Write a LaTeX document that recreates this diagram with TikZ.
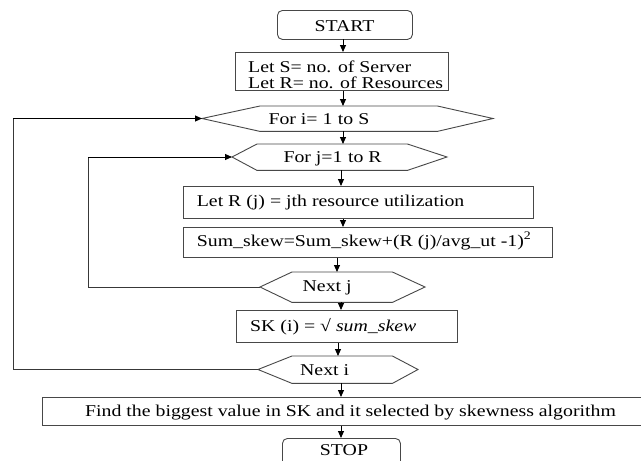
\documentclass[tikz,border=0pt]{standalone}
\usepackage{fontspec}
\setmainfont{Liberation Serif}[FakeStretch=1.2]
\usetikzlibrary{arrows.meta}
\begin{document}
\begin{tikzpicture}[x=1pt,y=-1pt,
  shp/.style={draw=black!72, line width=0.9pt},
  boxnode/.style={shp, rectangle, inner sep=0pt, anchor=north west},
  body/.style={rectangle, inner sep=0pt, anchor=north west},
  arr/.style={-{Triangle[length=7pt,width=6pt]}, draw=black, line width=0.9pt},
  loopln/.style={draw=black!78, line width=0.9pt},
  txt/.style={font=\fontsize{16.5}{19}\selectfont, inner sep=0pt, anchor=base west},
  ctxt/.style={font=\fontsize{16.5}{19}\selectfont, inner sep=0pt, anchor=base}]
\clip (0,0) rectangle (641,461);
\fill[white] (0,0) rectangle (641,461);

% START
\node[boxnode, rounded corners=5pt, minimum width=135pt, minimum height=29pt] (start) at (277,10) {};
\node[ctxt] (tstart) at (344.5,31) {START};

% Let S / Let R
\node[boxnode, minimum width=213pt, minimum height=38pt] (lets) at (235,52) {};
\node[txt] (tlets1) at (248,72.7) {Let S= no. of Server};
\node[txt] (tlets2) at (248,88.3) {Let R= no. of Resources};

% For i hexagon
\node[body, minimum width=177pt, minimum height=25pt] (fori) at (260,106) {};
\coordinate (foriL) at (202,118.5);
\coordinate (foriR) at (493,118.5);
\draw[shp] (foriL) -- (fori.north west) -- (fori.north east) -- (foriR) -- (fori.south east) -- (fori.south west) -- cycle;
\node[txt] (tfori) at (268.3,124) {For i= 1\,\,to S};

% For j hexagon
\node[body, minimum width=150pt, minimum height=26pt] (forj) at (257,144) {};
\coordinate (forjL) at (232,157);
\coordinate (forjR) at (447,157);
\draw[shp] (forjL) -- (forj.north west) -- (forj.north east) -- (forjR) -- (forj.south east) -- (forj.south west) -- cycle;
\node[txt] (tforj) at (283.3,162) {For j=1\,\,to R};

% Let R(j)
\node[boxnode, minimum width=350pt, minimum height=32pt] (letr) at (183,186) {};
\node[txt] (tletr) at (196.7,206.5) {Let R (j) = jth resource utilization};

% Sum skew
\node[boxnode, minimum width=369pt, minimum height=30pt] (sum) at (183,227) {};
\node[txt] (tsum) at (196.7,246) {Sum\_skew=Sum\_skew+(R (j)/avg\_ut -1)\textsuperscript{2}};

% Next j hexagon
\node[body, minimum width=100pt, minimum height=30pt] (nextj) at (292,272) {};
\coordinate (nextjL) at (260,287);
\coordinate (nextjR) at (425,287);
\draw[shp] (nextjL) -- (nextj.north west) -- (nextj.north east) -- (nextjR) -- (nextj.south east) -- (nextj.south west) -- cycle;
\node[txt] (tnextj) at (302.5,291) {Next j};

% SK(i)
\node[boxnode, minimum width=221pt, minimum height=32pt] (sk) at (236,310) {};
\node[txt] (tsk) at (250,331.7) {SK (i) = \symbol{"221A} \textit{sum\_skew}};

% Next i hexagon
\node[body, minimum width=100pt, minimum height=27pt] (nexti) at (292,356) {};
\coordinate (nextiL) at (258,369.5);
\coordinate (nextiR) at (418,369.5);
\draw[shp] (nextiL) -- (nexti.north west) -- (nexti.north east) -- (nextiR) -- (nexti.south east) -- (nexti.south west) -- cycle;
\node[txt] (tnexti) at (300,375) {Next i};

% Find
\node[boxnode, minimum width=600pt, minimum height=28pt] (find) at (42,397) {};
\node[txt] (tfind) at (85,416) {Find the biggest value in SK and it selected by skewness algorithm};

% STOP
\node[boxnode, rounded corners=5pt, minimum width=118pt, minimum height=34pt] (stop) at (282,438) {};
\node[ctxt] (tstop) at (344,455) {STOP};

% vertical arrows
\draw[arr] (343,39) -- (lets.north -| 343,0);
\draw[arr] (lets.south -| 343,0) -- (fori.north -| 343,0);
\draw[arr] (fori.south -| 343,0) -- (forj.north -| 343,0);
\draw[arr] (forj.south -| 341,0) -- (letr.north -| 341,0);
\draw[arr] (letr.south -| 343,0) -- (sum.north -| 343,0);
\draw[arr] (sum.south -| 337,0) -- (nextj.north -| 337,0);
\draw[arr] (nextj.south -| 341,0) -- (sk.north -| 341,0);
\draw[arr] (sk.south -| 338,0) -- (nexti.north -| 338,0);
\draw[arr] (nexti.south -| 341,0) -- (find.north -| 341,0);
\draw[arr] (find.south -| 341,0) -- (stop.north -| 341,0);

% loops
\draw[loopln] (nextjL) -- (88,287) -- (88,157);
\draw[arr] (88,157) -- (forjL);
\draw[loopln] (nextiL) -- (13,369.5) -- (13,118.5);
\draw[arr] (13,118.5) -- (foriL);
\end{tikzpicture}
\end{document}
